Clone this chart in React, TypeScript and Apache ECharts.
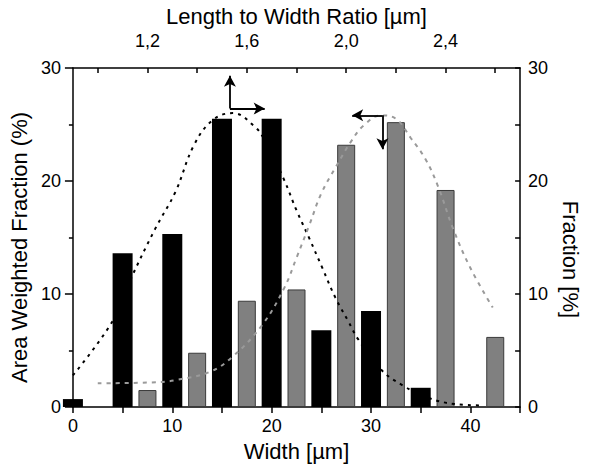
import React, { useEffect, useRef } from 'react';
import * as echarts from 'echarts';

// Black bars: area weighted fraction (%) vs width (µm)
const widthBins = [0, 5, 10, 15, 20, 25, 30, 35];
const areaWeightedFraction = [0.7, 13.6, 15.3, 25.5, 25.5, 6.8, 8.5, 1.7];

// Gray bars: fraction (%) vs length-to-width ratio
const ratioBins = [1.2, 1.4, 1.6, 1.8, 2.0, 2.2, 2.4, 2.6];
const ratioFraction = [1.5, 4.8, 9.4, 10.4, 23.2, 25.2, 19.2, 6.2];

// Black dashed fit curve (width axis / left axis)
const widthFitX = [0, 4, 5.7, 8.3, 10.3, 12.2, 14.1, 16.1, 18.3, 19.3, 21.2, 22.5, 23.8, 25.1, 26.4, 27.7, 28.7, 30.9, 33.2, 35.8, 38.4, 41];
const widthFitY = [2.8, 7.6, 11.1, 15.8, 19.0, 23.2, 25.4, 26.0, 24.8, 23.6, 20.2, 17.4, 14.9, 12.3, 9.7, 7.6, 6.0, 3.4, 1.9, 0.8, 0.26, 0.14];

// Gray dashed fit curve (ratio axis / right axis)
const ratioFitX = [1.0, 1.25, 1.32, 1.45, 1.54, 1.66, 1.75, 1.8, 1.85, 1.9, 1.96, 2.02, 2.07, 2.14, 2.2, 2.26, 2.32, 2.37, 2.43, 2.5, 2.59];
const ratioFitY = [2.1, 2.2, 2.4, 3.1, 4.4, 7.2, 10.5, 13.2, 16.0, 18.9, 21.3, 23.5, 24.9, 25.8, 25.5, 23.8, 21.9, 19.5, 15.8, 12.3, 8.8];

// Tick values
const bottomTicks = [0, 5, 10, 15, 20, 25, 30, 35, 40, 45];
const bottomLabels = [0, 10, 20, 30, 40];
const topTicks = [1.0, 1.2, 1.4, 1.6, 1.8, 2.0, 2.2, 2.4, 2.6];
const topLabels = [1.2, 1.6, 2.0, 2.4];
const rightTicks = [0, 5, 10, 15, 20, 25, 30];
const rightLabels = [0, 10, 20, 30];

// Arrow annotations: [origin, tip]
const blackArrowUp = [[15.8, 26.4], [15.8, 29.3]];
const blackArrowRight = [[15.8, 26.4], [19.3, 26.4]];
const grayArrowDown = [[2.146, 25.8], [2.146, 22.8]];
const grayArrowLeft = [[2.146, 25.8], [2.024, 25.8]];

const FONT = '"Liberation Sans", Arial, sans-serif';
const axisLine = { show: true, onZero: false, lineStyle: { color: '#000', width: 1.5 } };
const tickStyle = { color: '#000', width: 1.5 };
const labelStyle = { color: '#000', fontSize: 18, fontFamily: FONT };
const nameStyle = { color: '#000', fontSize: 22, fontFamily: FONT };

const arrowMark = (pairs: number[][][]) => ({
  silent: true,
  symbol: ['none', 'arrow'],
  symbolSize: [9, 11],
  label: { show: false },
  lineStyle: { color: '#000', width: 1.8, type: 'solid' },
  emphasis: { disabled: true },
  data: pairs.map((p) => [{ coord: p[0] }, { coord: p[1] }]),
});

export default function App() {
  const ref = useRef<HTMLDivElement>(null);
  useEffect(() => {
    const chart = echarts.init(ref.current!, null, { renderer: 'svg' });
    chart.setOption({
      animation: false,
      backgroundColor: '#fff',
      textStyle: { fontFamily: FONT },
      grid: { left: 70.5, right: 54.5, top: 63, bottom: 60, containLabel: false },
      xAxis: [
        {
          type: 'value',
          position: 'bottom',
          min: 0,
          max: 45,
          name: 'Width [µm]',
          nameLocation: 'middle',
          nameGap: 33,
          nameTextStyle: nameStyle,
          axisLine,
          axisTick: { show: true, inside: false, length: 6, customValues: bottomTicks, lineStyle: tickStyle },
          axisLabel: { ...labelStyle, margin: 10, customValues: bottomLabels },
          splitLine: { show: false },
        },
        {
          type: 'value',
          position: 'top',
          min: 0.9,
          max: 2.7,
          name: 'Length to Width Ratio [µm]',
          nameLocation: 'middle',
          nameGap: 36,
          nameTextStyle: nameStyle,
          axisLine,
          axisTick: { show: true, inside: true, length: 5, customValues: topTicks, lineStyle: tickStyle },
          axisLabel: {
            ...labelStyle,
            margin: 18,
            customValues: topLabels,
            formatter: (v: number) => v.toFixed(1).replace('.', ','),
          },
          splitLine: { show: false },
        },
      ],
      yAxis: [
        {
          type: 'value',
          position: 'left',
          min: 0,
          max: 30,
          interval: 10,
          name: 'Area Weighted Fraction (%)',
          nameLocation: 'middle',
          nameGap: 40,
          nameTextStyle: { ...nameStyle, padding: [0, 20, 0, 0] },
          axisLine,
          axisTick: { show: true, inside: false, length: 8, lineStyle: tickStyle },
          minorTick: { show: true, splitNumber: 2, length: 4, lineStyle: tickStyle },
          axisLabel: { ...labelStyle, margin: 12 },
          splitLine: { show: false },
          minorSplitLine: { show: false },
        },
        {
          type: 'value',
          position: 'right',
          min: 0,
          max: 30,
          name: 'Fraction [%]',
          nameLocation: 'middle',
          nameRotate: -90,
          nameGap: 30,
          nameTextStyle: { ...nameStyle, padding: [0, 0, 0, 44] },
          axisLine,
          axisTick: { show: true, inside: true, length: 5, customValues: rightTicks, lineStyle: tickStyle },
          axisLabel: { ...labelStyle, margin: 8, customValues: rightLabels },
          splitLine: { show: false },
        },
      ],
      series: [
        {
          name: 'Area weighted',
          type: 'bar',
          xAxisIndex: 0,
          yAxisIndex: 0,
          barWidth: 20,
          itemStyle: { color: '#000' },
          data: widthBins.map((x, i) => [x, areaWeightedFraction[i]]),
          z: 2,
        },
        {
          name: 'Fraction',
          type: 'bar',
          xAxisIndex: 1,
          yAxisIndex: 1,
          barWidth: 18,
          itemStyle: { color: '#808080', borderColor: '#3a3a3a', borderWidth: 1 },
          data: ratioBins.map((x, i) => [x, ratioFraction[i]]),
          z: 2,
        },
        {
          name: 'Width fit',
          type: 'line',
          xAxisIndex: 0,
          yAxisIndex: 0,
          smooth: 0.4,
          showSymbol: false,
          symbol: 'none',
          lineStyle: { color: '#000', width: 2, type: [3, 5] },
          data: widthFitX.map((x, i) => [x, widthFitY[i]]),
          markLine: arrowMark([blackArrowUp, blackArrowRight]),
          z: 4,
        },
        {
          name: 'Ratio fit',
          type: 'line',
          xAxisIndex: 1,
          yAxisIndex: 1,
          smooth: 0.4,
          showSymbol: false,
          symbol: 'none',
          lineStyle: { color: '#9a9a9a', width: 2, type: [4, 5] },
          data: ratioFitX.map((x, i) => [x, ratioFitY[i]]),
          markLine: arrowMark([grayArrowDown, grayArrowLeft]),
          z: 4,
        },
      ],
    });
    return () => chart.dispose();
  }, []);
  return (
    <div
      ref={ref}
      style={{ position: 'fixed', left: 0, top: 0, width: 589, height: 467, background: '#fff' }}
    />
  );
}
